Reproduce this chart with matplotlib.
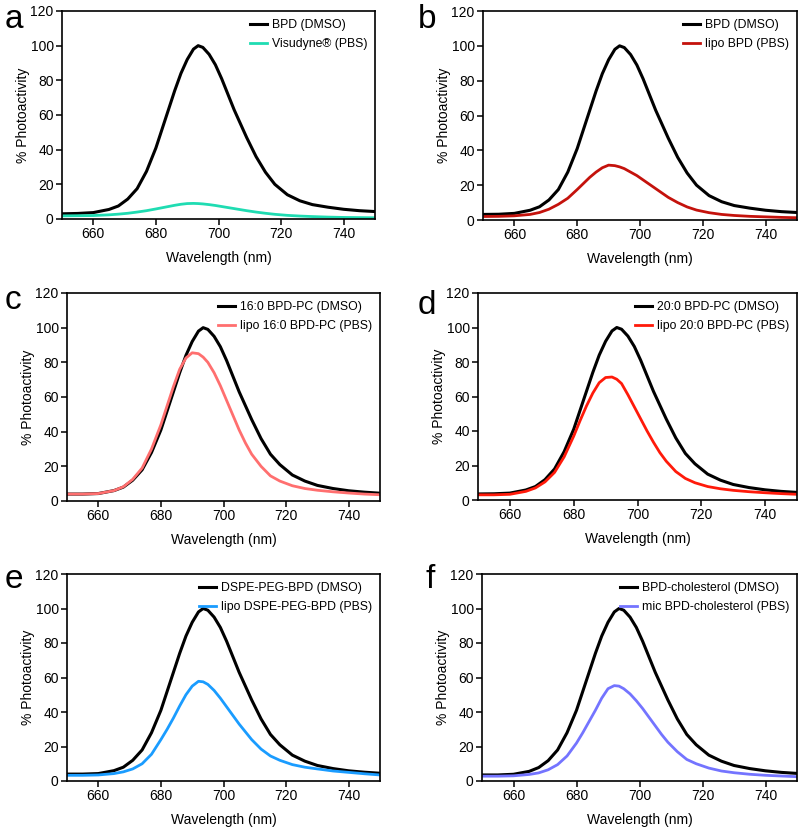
import matplotlib
matplotlib.use("Agg")
import matplotlib.pyplot as plt

plt.rcParams['font.family'] = ['Liberation Sans', 'DejaVu Sans']

# wavelength grid (nm)
wl = [650, 655, 660, 665, 668, 671, 674, 677, 680, 682, 684, 686, 688, 690,
      692, 693.5, 695, 697, 699, 701, 703, 705, 707, 709, 712, 715, 718, 722,
      726, 730, 735, 740, 745, 750]

# panel a / b - free BPD in DMSO
bpd_a = [3.0, 3.2, 3.7, 5.5, 7.5, 11.5, 17.5, 27.5, 41, 52, 63, 74, 84, 92,
         98, 100, 99, 95, 89, 81, 72, 63, 55, 47, 36, 27, 20, 14,
         10.5, 8.3, 6.8, 5.6, 4.8, 4.3]
visudyne = [1.8, 1.9, 2.0, 2.4, 2.8, 3.3, 4.0, 4.8, 5.8, 6.5, 7.2, 7.9, 8.5, 8.9,
            9.0, 8.9, 8.7, 8.3, 7.8, 7.2, 6.6, 6.0, 5.4, 4.8, 4.0, 3.3, 2.7, 2.1,
            1.7, 1.4, 1.1, 0.9, 0.8, 0.7]
bpd_b = [3.2, 3.3, 3.8, 5.6, 7.6, 11.5, 17.5, 27.5, 41, 52, 63, 74, 84, 92,
         98, 100, 99, 95, 89, 81, 72, 63, 55, 47, 36, 27, 20, 14,
         10.5, 8.3, 6.8, 5.6, 4.8, 4.3]
lipo_bpd = [2.0, 2.1, 2.4, 3.2, 4.3, 6.2, 9, 12.5, 17.5, 21, 24.5, 27.5, 30, 31.5,
            31.2, 30.5, 29.5, 27.5, 25.5, 23, 20.5, 18, 15.5, 13, 10, 7.5, 5.7, 4.2,
            3.2, 2.6, 2.1, 1.8, 1.5, 1.3]

# panel c - 16:0 BPD-PC
pc16 = [4.0, 4.0, 4.3, 6, 8, 12, 18, 28, 41, 52, 63, 74, 84, 92,
        98, 100, 99, 95, 89, 81, 72, 63, 55, 47, 36, 27, 21, 15,
        11.5, 9, 7.2, 5.9, 5.1, 4.5]
lipo_pc16 = [4.0, 4.0, 4.3, 6, 8.2, 12.5, 19, 30, 44, 55, 66, 76, 82.5, 85.5,
             85, 83, 80, 74, 66.5, 58, 49.5, 41, 33.5, 27, 20, 14.5, 11.5, 8.8,
             7.2, 6.2, 5.3, 4.6, 4.0, 3.6]

# panel d - 20:0 BPD-PC
pc20 = [3.5, 3.6, 4.0, 5.8, 7.8, 11.8, 18, 28, 41, 52, 63, 74, 84, 92,
        98, 100, 99, 95, 89, 81, 72, 63, 55, 47, 36, 27, 21, 15,
        11.5, 9, 7.2, 5.9, 5.0, 4.4]
lipo_pc20 = [3.0, 3.0, 3.3, 5, 7, 10.5, 16, 25, 37, 46, 54.5, 62, 68, 71,
             71.3, 70, 67.5, 61, 54, 47, 40, 33.5, 27.5, 22.5, 16.5, 12.5, 10, 7.8,
             6.5, 5.6, 4.8, 4.2, 3.7, 3.3]

# panel e - DSPE-PEG-BPD
peg = [4.0, 4.0, 4.3, 6, 8, 12, 18, 28, 41, 52, 63, 74, 84, 92,
       98, 100, 99, 95, 89, 81, 72, 63, 55, 47, 36, 27, 21, 15,
       11.5, 9, 7.2, 5.9, 5.1, 4.5]
lipo_peg = [3.3, 3.3, 3.5, 4.3, 5.3, 7, 10, 15.5, 24, 30, 36.5, 43.5, 50, 55,
            57.8, 57.5, 56, 52.5, 48, 43, 38, 33, 28.5, 24, 18.5, 14.5, 12, 9.5,
            8, 7, 5.8, 5.0, 4.2, 3.5]

# panel f - BPD-cholesterol
chol = [3.5, 3.5, 3.9, 5.6, 7.8, 11.8, 18, 28, 41, 52, 63, 74, 84, 92,
        98, 100, 99, 95, 89, 81, 72, 63, 55, 47, 36, 27, 21, 15,
        11.5, 9, 7.2, 5.9, 5.0, 4.4]
mic_chol = [2.8, 2.8, 3.0, 3.8, 4.7, 6.5, 9.5, 14.5, 22, 28, 34.5, 41, 48, 53.5,
            55.3, 55, 53.5, 50.5, 46.5, 42, 37, 32, 27, 22.5, 17, 12.5, 10, 7.5,
            5.8, 4.8, 3.9, 3.3, 2.9, 2.5]

panels = [
    ('a', bpd_a, visudyne, 'BPD (DMSO)', 'Visudyne\u00ae (PBS)', '#1fdcb2'),
    ('b', bpd_b, lipo_bpd, 'BPD (DMSO)', 'lipo BPD (PBS)', '#c4120c'),
    ('c', pc16, lipo_pc16, '16:0 BPD-PC (DMSO)', 'lipo 16:0 BPD-PC (PBS)', '#ff6f6f'),
    ('d', pc20, lipo_pc20, '20:0 BPD-PC (DMSO)', 'lipo 20:0 BPD-PC (PBS)', '#ff1a0a'),
    ('e', peg, lipo_peg, 'DSPE-PEG-BPD (DMSO)', 'lipo DSPE-PEG-BPD (PBS)', '#1a9cff'),
    ('f', chol, mic_chol, 'BPD-cholesterol (DMSO)', 'mic BPD-cholesterol (PBS)', '#7474ff'),
]

# axes boxes in pixels: left, right, top, bottom
boxes = [(62, 375, 11, 219), (483, 797, 11, 220),
         (67, 380, 293, 501), (478, 797, 293, 500),
         (67, 380, 574, 781), (482, 797, 574, 781)]
letter_pos = [(5, 28), (418, 28), (5, 309), (418, 314), (5, 588), (426, 588)]

W, H = 800, 831
fig = plt.figure(figsize=(W / 100, H / 100), dpi=100)

for (letter, black, col, lab1, lab2, c), (l, r, t, b), (lx, ly) in zip(panels, boxes, letter_pos):
    ax = fig.add_axes([l / W, 1 - b / H, (r - l) / W, (b - t) / H])
    ax.plot(wl, black, color='black', lw=2.2, label=lab1)
    ax.plot(wl, col, color=c, lw=2.0, label=lab2)
    ax.set_xlim(650, 750)
    ax.set_ylim(0, 120)
    ax.set_xticks([660, 680, 700, 720, 740])
    ax.set_yticks([0, 20, 40, 60, 80, 100, 120])
    ax.tick_params(direction='out', length=4, width=1.1, labelsize=10, pad=2)
    for s in ax.spines.values():
        s.set_linewidth(1.2)
    ax.set_xlabel('Wavelength (nm)', fontsize=10, labelpad=7)
    ax.set_ylabel('% Photoactivity', fontsize=10, labelpad=0)
    ax.legend(loc='upper right', frameon=False, fontsize=8.8, handlelength=1.4,
              handletextpad=0.4, borderaxespad=0.25, labelspacing=0.6)
    fig.text(lx / W, 1 - ly / H, letter, fontsize=24, va='baseline', ha='left')

fig.savefig('out.png', dpi=100)
